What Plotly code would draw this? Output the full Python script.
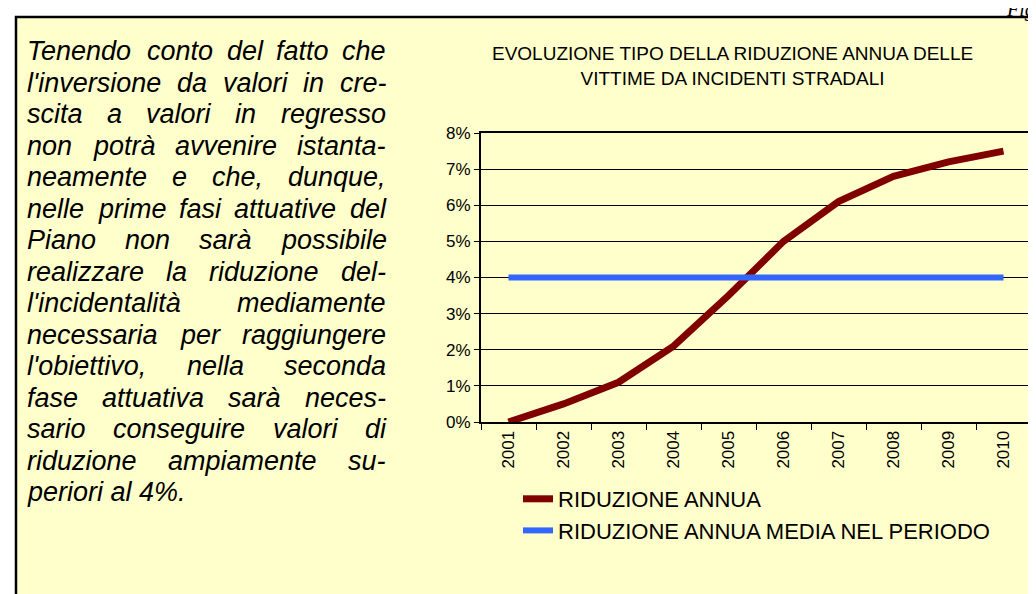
import plotly.graph_objects as go

# ---------------- data ----------------
years = ["2001", "2002", "2003", "2004", "2005", "2006", "2007", "2008", "2009", "2010"]
riduzione_annua = [0.000, 0.005, 0.011, 0.021, 0.035, 0.050, 0.061, 0.068, 0.072, 0.075]
riduzione_media = [0.04, 0.04, 0.04, 0.04, 0.04, 0.04, 0.04, 0.04, 0.04, 0.04]
y_ticks = [0.00, 0.01, 0.02, 0.03, 0.04, 0.05, 0.06, 0.07, 0.08]

series_names = ["RIDUZIONE ANNUA", "RIDUZIONE ANNUA MEDIA NEL PERIODO"]
chart_title = "EVOLUZIONE TIPO DELLA RIDUZIONE ANNUA DELLE<br>VITTIME DA INCIDENTI STRADALI"

body_lines = [
    "Tenendo conto del fatto che",
    "l'inversione da valori in cre-",
    "scita a valori in regresso",
    "non potrà avvenire istanta-",
    "neamente e che, dunque,",
    "nelle prime fasi attuative del",
    "Piano non sarà possibile",
    "realizzare la riduzione del-",
    "l'incidentalità mediamente",
    "necessaria per raggiungere",
    "l'obiettivo, nella seconda",
    "fase attuativa sarà neces-",
    "sario conseguire valori di",
    "riduzione ampiamente su-",
    "periori al 4%.",
]

# ---------------- layout geometry (pixels) ----------------
W, H = 1036, 594
PL, PR, PT, PB = 473, 1023, 125, 414  # plot area


def px(x):
    return (x - PL) / (PR - PL)


def py(y):
    return (PB - y) / (PB - PT)


YELLOW = "#FFFFCC"
FONT = "Liberation Sans, Arial, sans-serif"

fig = go.Figure()
fig.add_trace(go.Scatter(x=years, y=riduzione_annua, mode="lines", name=series_names[0],
                         line=dict(color="#800000", width=7)))
fig.add_trace(go.Scatter(x=years, y=riduzione_media, mode="lines", name=series_names[1],
                         line=dict(color="#3366FF", width=6)))

# Arial / Liberation Sans advance widths (1/1000 em)
CW = {" ": 278, "'": 191, ",": 278, "-": 333, ".": 278, "%": 889, "4": 556,
      "a": 556, "b": 556, "c": 500, "d": 556, "e": 556, "f": 278, "g": 556, "h": 556,
      "i": 222, "j": 222, "k": 500, "l": 222, "m": 833, "n": 556, "o": 556, "p": 556,
      "q": 556, "r": 333, "s": 500, "t": 278, "u": 556, "v": 500, "w": 722, "x": 500,
      "y": 500, "z": 500, "à": 556, "T": 611, "P": 667}

BODY_FS = 27
TX0, TX1 = 18, 377
TY0, TDY = 43, 31.5

annotations = []
for i, line in enumerate(body_lines):
    yc = TY0 + i * TDY
    words = line.split(" ")
    last = i == len(body_lines) - 1
    if last or len(words) == 1:
        annotations.append(dict(x=px(TX0), y=py(yc), xref="paper", yref="paper", text=line,
                                showarrow=False, xanchor="left", yanchor="middle", borderpad=0,
                                font=dict(family=FONT, size=BODY_FS, color="black", style="italic")))
        continue
    widths = [sum(CW.get(c, 556) for c in w) * BODY_FS / 1000 for w in words]
    gap = (TX1 - TX0 - sum(widths)) / (len(words) - 1)
    x = TX0
    for w, wd in zip(words, widths):
        annotations.append(dict(x=px(x), y=py(yc), xref="paper", yref="paper", text=w,
                                showarrow=False, xanchor="left", yanchor="middle", borderpad=0,
                                font=dict(family=FONT, size=BODY_FS, color="black", style="italic")))
        x += wd + gap

annotations.append(dict(x=px(724), y=py(58), xref="paper", yref="paper", text=chart_title,
                        showarrow=False, xanchor="center", yanchor="middle",
                        font=dict(family=FONT, size=19, color="black")))
annotations.append(dict(x=px(997), y=py(14), xref="paper", yref="paper", text="Fig.",
                        showarrow=False, xanchor="left", yanchor="bottom", borderpad=0,
                        font=dict(family="Liberation Serif, Times New Roman, serif", size=20,
                                  color="black", style="italic")))

shapes = [dict(type="rect", xref="paper", yref="paper", x0=px(8), x1=px(1045), y0=py(9), y1=py(605),
               fillcolor=YELLOW, line=dict(color="black", width=2.5), layer="below")]

fig.update_layout(
    width=W, height=H,
    margin=dict(l=PL, r=W - PR, t=PT, b=H - PB),
    paper_bgcolor="white",
    plot_bgcolor=YELLOW,
    showlegend=True,
    legend=dict(x=px(510), y=py(470), xanchor="left", yanchor="top", orientation="v",
                font=dict(family=FONT, size=22, color="black"), bgcolor="rgba(0,0,0,0)",
                itemwidth=30, tracegroupgap=0),
    annotations=annotations,
    shapes=shapes,
    font=dict(family=FONT, color="black"),
)
fig.update_xaxes(type="category", tickson="boundaries", ticks="outside", ticklen=6, tickwidth=1,
                 tickcolor="black", tickangle=-90, showgrid=False, showline=True, linecolor="black",
                 linewidth=2, mirror=True, tickfont=dict(family=FONT, size=17, color="black"),
                 range=[-0.5, 9.5])
fig.update_yaxes(range=[0, 0.08], tickvals=y_ticks, tickformat=".0%", ticks="outside", ticklen=5,
                 tickcolor="black", showgrid=True, gridcolor="black", gridwidth=1, zeroline=False,
                 showline=True, linecolor="black", linewidth=2, mirror=True,
                 tickfont=dict(family=FONT, size=17, color="black"))

fig.write_html("out.html")
